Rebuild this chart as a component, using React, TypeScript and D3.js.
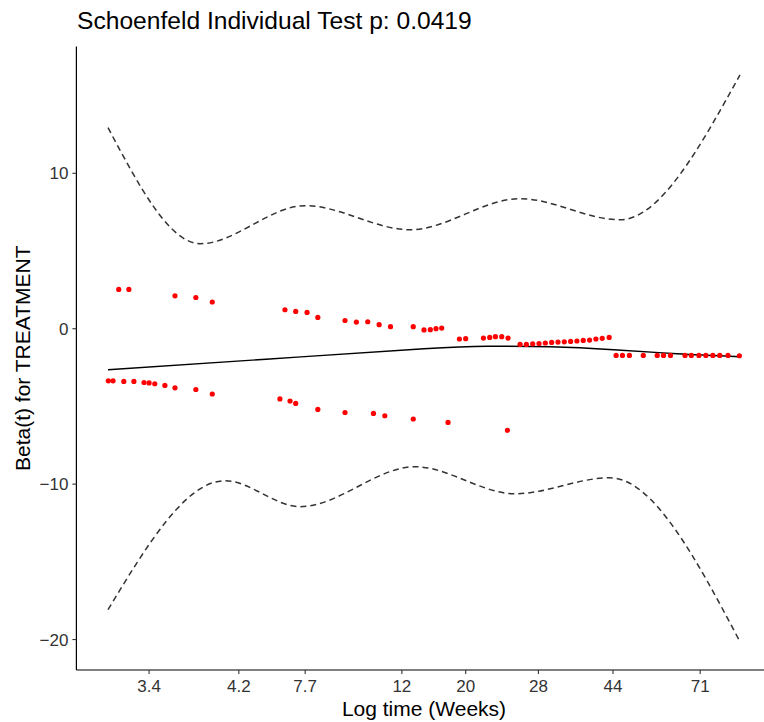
import React from "react";
import * as d3 from "d3";

// ---- data (transformed time axis units 0..100) ----
const xTickLabels = ["3.4", "4.2", "7.7", "12", "20", "28", "44", "71"];
const xTickPositions = [6.5, 20.7, 31.2, 46.5, 56.6, 68.1, 79.9, 93.7];
const yTicks = [-20, -10, 0, 10];

const pointTime = [
  // upper residuals
  1.7, 3.3, 10.6, 13.9, 16.5, 28.0, 29.7, 31.5, 33.2, 37.5, 39.3, 41.1, 42.9, 44.7,
  48.3, 50.0, 51.0, 51.9, 52.8, 55.6, 56.6, 59.4, 60.4, 61.3, 62.3, 63.3,
  65.2, 66.2, 67.2, 68.2, 69.2, 70.2, 71.2, 72.2, 73.2, 74.2, 75.2, 76.2, 77.2, 78.2, 79.3,
  80.4, 81.4, 82.5, 84.7, 86.9, 87.9, 89.0, 91.3, 92.3, 93.5, 94.6, 95.7, 96.8, 98.1, 99.9,
  // lower residuals
  0.05, 0.8, 2.5, 4.1, 5.7, 6.5, 7.4, 9.0, 10.6, 13.9, 16.5, 27.2, 28.8, 29.7, 33.2,
  37.5, 42.0, 43.8, 48.3, 53.8, 63.2,
];
const pointBeta = [
  2.53, 2.53, 2.12, 2.01, 1.72, 1.22, 1.11, 1.05, 0.73, 0.53, 0.43, 0.45, 0.26, 0.13,
  0.13, -0.08, -0.06, 0.0, 0.04, -0.66, -0.64, -0.6, -0.56, -0.51, -0.51, -0.6,
  -1.01, -1.01, -0.97, -0.95, -0.92, -0.88, -0.86, -0.84, -0.82, -0.79, -0.75, -0.73, -0.66, -0.62, -0.56,
  -1.72, -1.72, -1.72, -1.72, -1.72, -1.72, -1.72, -1.72, -1.72, -1.72, -1.72, -1.72, -1.72, -1.72, -1.74,
  -3.35, -3.35, -3.39, -3.39, -3.46, -3.49, -3.54, -3.65, -3.8, -3.91, -4.2, -4.52, -4.65, -4.81, -5.19,
  -5.39, -5.45, -5.6, -5.81, -6.03, -6.54,
];

const fitTime = [0, 25, 50, 60, 70, 80, 90, 100];
const fitBeta = [-2.64, -1.96, -1.29, -1.13, -1.16, -1.35, -1.61, -1.8];

const upperTime = [0, 14.6, 31.2, 47.8, 65.2, 81.0, 100];
const upperBeta = [12.94, 5.47, 7.92, 6.37, 8.37, 7.01, 16.34];

const lowerTime = [0, 18.5, 30.4, 48.6, 64.4, 79.4, 100];
const lowerBeta = [-18.08, -9.78, -11.45, -8.88, -10.62, -9.59, -20.14];

const FONT = "'Liberation Sans', Arial, Helvetica, sans-serif";

export default function App() {
  const W = 764;
  const H = 722;
  const xScale = d3.scaleLinear().domain([-5, 105]).range([76.4, 771.6]);
  const yScale = d3.scaleLinear().domain([-21.96, 18.16]).range([670, 46.5]);
  const left = 76.4;
  const bottom = 670;

  const line = (xs: number[], ys: number[], curve: any) =>
    d3
      .line<number>()
      .x((_, i) => xScale(xs[i]))
      .y((d) => yScale(d))
      .curve(curve)(ys) || "";

  return (
    <svg
      width={W}
      height={H}
      style={{ position: "absolute", left: 0, top: 0, background: "#fff" }}
      fontFamily={FONT}
    >
      <rect x={0} y={0} width={W} height={H} fill="#fff" />
      {/* title */}
      <text x={77} y={29} fontSize={24.6} fill="#000">
        Schoenfeld Individual Test p: 0.0419
      </text>

      {/* confidence bands */}
      <path d={line(upperTime, upperBeta, d3.curveMonotoneX)} fill="none" stroke="#333" strokeWidth={1.5} strokeDasharray="6,4" />
      <path d={line(lowerTime, lowerBeta, d3.curveMonotoneX)} fill="none" stroke="#333" strokeWidth={1.5} strokeDasharray="6,4" />

      {/* fit */}
      <path d={line(fitTime, fitBeta, d3.curveNatural)} fill="none" stroke="#000" strokeWidth={1.4} />

      {/* residual points */}
      {pointTime.map((t, i) => (
        <circle key={i} cx={xScale(t)} cy={yScale(pointBeta[i])} r={2.6} fill="#ff0000" />
      ))}

      {/* axes */}
      <line x1={left} x2={left} y1={yScale.range()[1]} y2={bottom} stroke="#000" strokeWidth={1.2} />
      <line x1={left} x2={W} y1={bottom} y2={bottom} stroke="#000" strokeWidth={1.2} />

      {yTicks.map((t) => (
        <g key={t}>
          <line x1={left - 4} x2={left} y1={yScale(t)} y2={yScale(t)} stroke="#333" strokeWidth={1.1} />
          <text x={left - 8} y={yScale(t)} dy="0.36em" textAnchor="end" fontSize={17} fill="#333">
            {t < 0 ? "\u2212" + Math.abs(t) : String(t)}
          </text>
        </g>
      ))}

      {xTickPositions.map((p, i) => (
        <g key={i}>
          <line x1={xScale(p)} x2={xScale(p)} y1={bottom} y2={bottom + 4} stroke="#333" strokeWidth={1.1} />
          <text x={xScale(p)} y={692} textAnchor="middle" fontSize={17} fill="#333">
            {xTickLabels[i]}
          </text>
        </g>
      ))}

      <text x={424} y={716} textAnchor="middle" fontSize={21} fill="#000">
        Log time (Weeks)
      </text>
      <text
        transform={`translate(30, ${(yScale.range()[1] + bottom) / 2}) rotate(-90)`}
        textAnchor="middle"
        fontSize={21}
        fill="#000"
      >
        Beta(t) for TREATMENT
      </text>
    </svg>
  );
}
